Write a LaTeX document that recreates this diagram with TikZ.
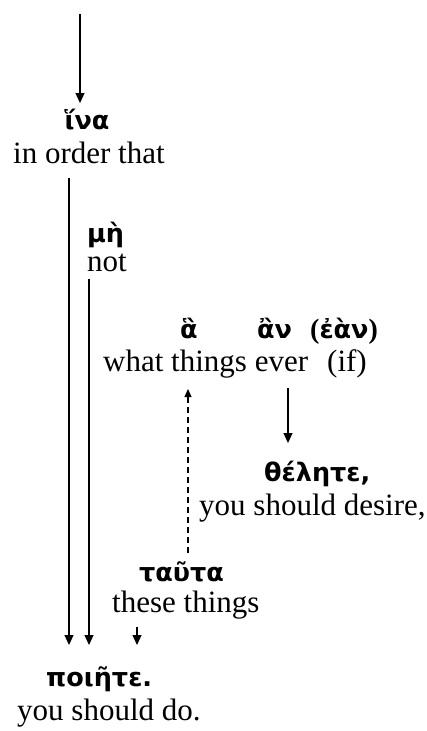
\documentclass[tikz,border=0pt]{standalone}
\usepackage{fontspec}
\setmainfont{Liberation Serif}
\newfontfamily\grk{DejaVu Sans}
\usetikzlibrary{arrows.meta}
\tikzset{
  eng/.style={inner sep=0pt, font=\fontsize{31}{33}\selectfont},
  gr/.style={inner sep=0pt, font=\grk\bfseries\fontsize{25.5}{27}\selectfont},
  arr/.style={line width=1.2pt, -{Triangle[length=10pt,width=9pt]}},
  darr/.style={line width=1.2pt, dash pattern=on 6pt off 4pt, -{Triangle[length=8pt,width=7pt]}}
}
\newcommand{\bpar}[1]{{\rmfamily\bfseries\fontsize{28}{30}\selectfont #1}}
\begin{document}
\begin{tikzpicture}[x=1pt,y=-1pt]
\useasboundingbox (0,0) rectangle (427,731);
% nodes
\node[gr, anchor=base] (ina) at (87,129) {ἵνα};
\node[eng, anchor=base west] (inorder) at (13,163) {in order that};
\node[gr, anchor=base west] (me) at (87,242) {μὴ};
\node[eng, anchor=base west] (not) at (87,271) {not};
\node[gr, anchor=base west] (ha) at (180,338) {ἃ};
\node[gr, anchor=base west] (an) at (257,338) {ἂν};
\node[gr, anchor=base west] (ean) at (310,338) {\bpar{(}ἐὰν\bpar{)}};
\node[eng, anchor=base west] (what) at (103,371) {what things ever};
\node[eng, anchor=base west] (if) at (327,371) {(if)};
\node[gr, anchor=base west] (thelete) at (264,481) {θέλητε,};
\node[eng, anchor=base west] (desire) at (199,515) {you should desire,};
\node[gr, anchor=base west] (tauta) at (139,581) {ταῦτα};
\node[eng, anchor=base west] (these) at (112,612) {these things};
\node[gr, anchor=base west] (poiete) at (46,686) {ποιῆτε.};
\node[eng, anchor=base west] (shoulddo) at (17,720) {you should do.};
% x positions of connectors
\coordinate (start) at (80,14);
\coordinate (xa) at (69,0);
\coordinate (xb) at (89,0);
\coordinate (xc) at (137,0);
\coordinate (xd) at (188,0);
\coordinate (xe) at (288,0);
% connectors
\draw[arr] (start) -- (start |- 0,103);
\draw[arr] (xa |- 0,178) -- (xa |- 0,645);
\draw[arr] (xb |- 0,279) -- (xb |- 0,645);
\draw[arr] (xc |- 0,627) -- (xc |- 0,645);
\draw[darr] (xd |- 0,553) -- (xd |- 0,389);
\draw[arr] (xe |- 0,388) -- (xe |- 0,443);
\end{tikzpicture}
\end{document}
